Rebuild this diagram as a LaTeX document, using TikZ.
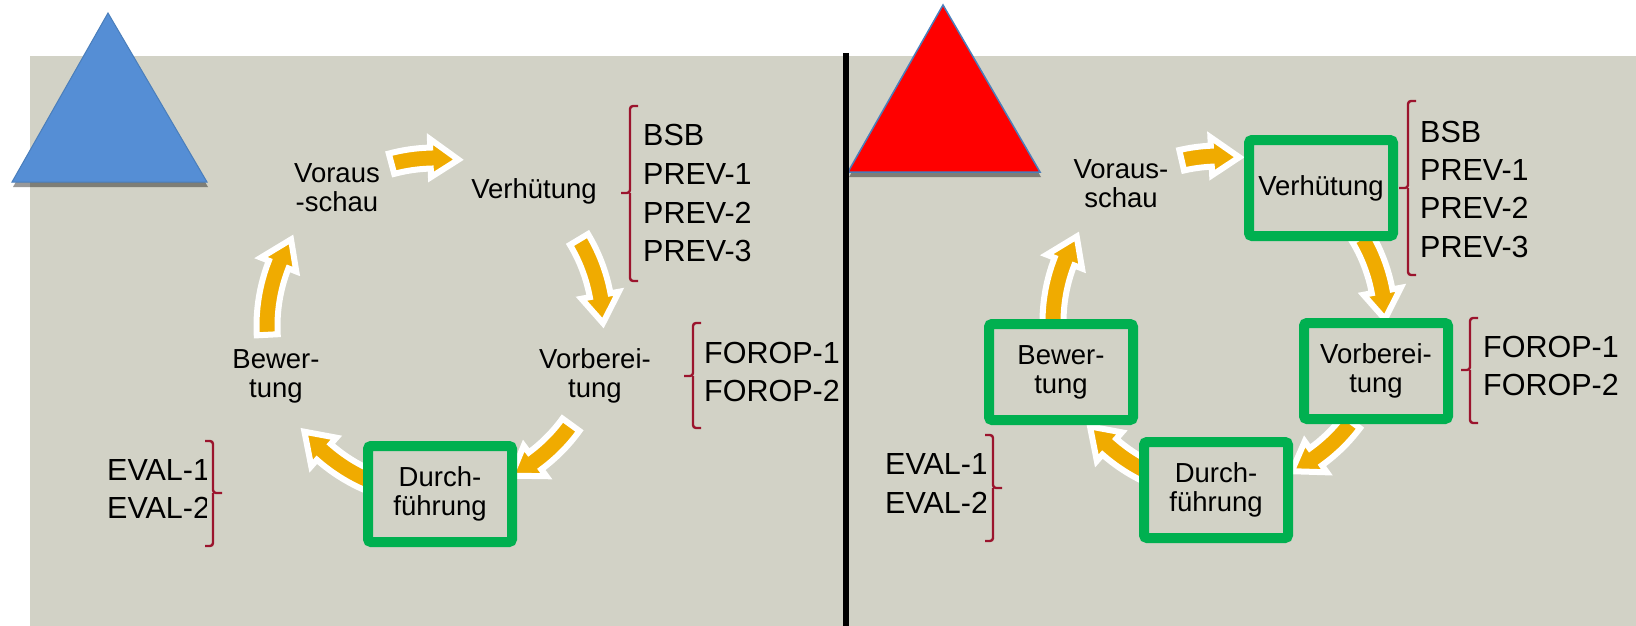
\documentclass[tikz,border=0pt]{standalone}
\usepackage{fontspec}
\setmainfont{Liberation Sans}
\definecolor{bggray}{RGB}{210,210,198}
\definecolor{flowyellow}{RGB}{240,171,0}
\definecolor{boxgreen}{RGB}{0,176,80}
\definecolor{brakred}{RGB}{155,20,45}
\definecolor{triblue}{RGB}{85,142,213}
\definecolor{triedge}{RGB}{74,126,187}

% fat cycle arrow, clockwise from #1 to #2 on radius #3
\newcommand{\cycarrow}[3]{%
  \pgfmathsetmacro{\headang}{#2+28/#3*180/pi}%
  \draw[flow] (#1:#3+10.5) arc[start angle=#1, end angle=\headang, radius=#3+10.5]
    -- (\headang:#3+19) -- (#2:#3) -- (\headang:#3-19) -- (\headang:#3-10.5)
    arc[start angle=\headang, end angle=#1, radius=#3-10.5] -- cycle;}
% bracket: x, top, middle, bottom, side (1 = opens right, -1 = opens left)
\newcommand{\lbrak}[5]{%
  \draw[brak] ({#1+8*#5},-#2) -- (#1,-#2) -- (#1,-#3) -- ({#1-9*#5},-#3);
  \draw[brak] (#1,-#3) -- (#1,-#4) -- ({#1+8*#5},-#4);}

\begin{document}
\begin{tikzpicture}[x=1pt,y=1pt,
    stage/.style={font=\fontsize{27.5}{29}\selectfont, align=center, inner sep=0pt},
    stagebox/.style={stage, draw=boxgreen, line width=10pt, fill=bggray,
      minimum width=144pt, minimum height=96pt, rounded corners=3pt},
    item/.style={font=\fontsize{30.5}{38}\selectfont, anchor=base west, inner sep=0pt},
    flow/.style={fill=flowyellow, draw=white, line width=6pt},
    brak/.style={draw=brakred, line width=2.4pt, rounded corners=3pt},
    shadow/.style={fill=black, opacity=0.4}]
  \useasboundingbox (0,0) rectangle (1636,-626);
  \fill[bggray] (30,-56) rectangle (1636,-626);

  % left panel
  \fill[shadow, shift={(1,-5)}] (108,-13) -- (12,-182) -- (207,-182) -- cycle;
  \filldraw[fill=triblue, draw=triedge, line width=1pt]
    (108,-13) -- (12,-182) -- (207,-182) -- cycle;

  \coordinate (lc) at (435,-326);
  \begin{scope}[shift={(lc)}]
    \cycarrow{105}{82}{168}
    \cycarrow{31}{1}{168}
    \cycarrow{-36}{-63}{168}
    \cycarrow{-113}{-141}{168}
    \cycarrow{183}{149}{168}
  \end{scope}

  \node[stage] (vorausl) at (337,-188) {Voraus\\-schau};
  \node[stage] (verhl) at (534,-191) {Verhütung};
  \node[stage] (vorbl) at (595,-376) {Vorberei-\\tung};
  \node[stagebox] (durchl) at (440,-494) {Durch-\\führung};
  \node[stage] (bewl) at (276,-376) {Bewer-\\tung};

  \lbrak{630}{106}{193}{281}{1}
  \node[item] (bsbl) at (643,-145) {BSB};
  \node[item] (prev1l) at (643,-184) {PREV-1};
  \node[item] (prev2l) at (643,-223) {PREV-2};
  \node[item] (prev3l) at (643,-261) {PREV-3};

  \lbrak{693}{323}{376}{428}{1}
  \node[item] (forop1l) at (704,-363) {FOROP-1};
  \node[item] (forop2l) at (704,-401) {FOROP-2};

  \begin{scope}
    \clip (60,-420) rectangle (206,-560);
    \node[item] (eval1l) at (107,-480) {EVAL-1};
    \node[item] (eval2l) at (107,-518) {EVAL-2};
  \end{scope}
  \lbrak{213}{441}{493}{546}{-1}

  % right panel
  \fill[shadow, shift={(1,-5)}] (943,-5) -- (848,-172) -- (1040,-172) -- cycle;
  \filldraw[fill=red, draw=triedge, line width=1.5pt]
    (943,-5) -- (848,-172) -- (1040,-172) -- cycle;

  \coordinate (rc) at (1219,-322);
  \begin{scope}[shift={(rc)}]
    \cycarrow{103}{83}{166}
    \cycarrow{31}{1}{166}
    \cycarrow{-37}{-64}{166}
    \cycarrow{-112}{-141}{166}
    \cycarrow{183}{149}{166}
  \end{scope}

  \node[stage] (vorausr) at (1121,-184) {Voraus-\\schau};
  \node[stagebox] (verhr) at (1321,-188) {Verhütung};
  \node[stagebox] (vorbr) at (1376,-371) {Vorberei-\\tung};
  \node[stagebox] (durchr) at (1216,-490) {Durch-\\führung};
  \node[stagebox] (bewr) at (1061,-372) {Bewer-\\tung};

  \lbrak{1408}{101}{188}{275}{1}
  \node[item] (bsbr) at (1420,-142) {BSB};
  \node[item] (prev1r) at (1420,-180) {PREV-1};
  \node[item] (prev2r) at (1420,-218) {PREV-2};
  \node[item] (prev3r) at (1420,-257) {PREV-3};

  \lbrak{1470}{318}{370}{423}{1}
  \node[item] (forop1r) at (1483,-357) {FOROP-1};
  \node[item] (forop2r) at (1483,-395) {FOROP-2};

  \begin{scope}
    \clip (860,-415) rectangle (985,-560);
    \node[item] (eval1r) at (885,-474) {EVAL-1};
    \node[item] (eval2r) at (885,-513) {EVAL-2};
  \end{scope}
  \lbrak{993}{435}{488}{541}{-1}

  % divider
  \draw[line width=6pt] (846,-53) -- (846,-626);
\end{tikzpicture}
\end{document}
